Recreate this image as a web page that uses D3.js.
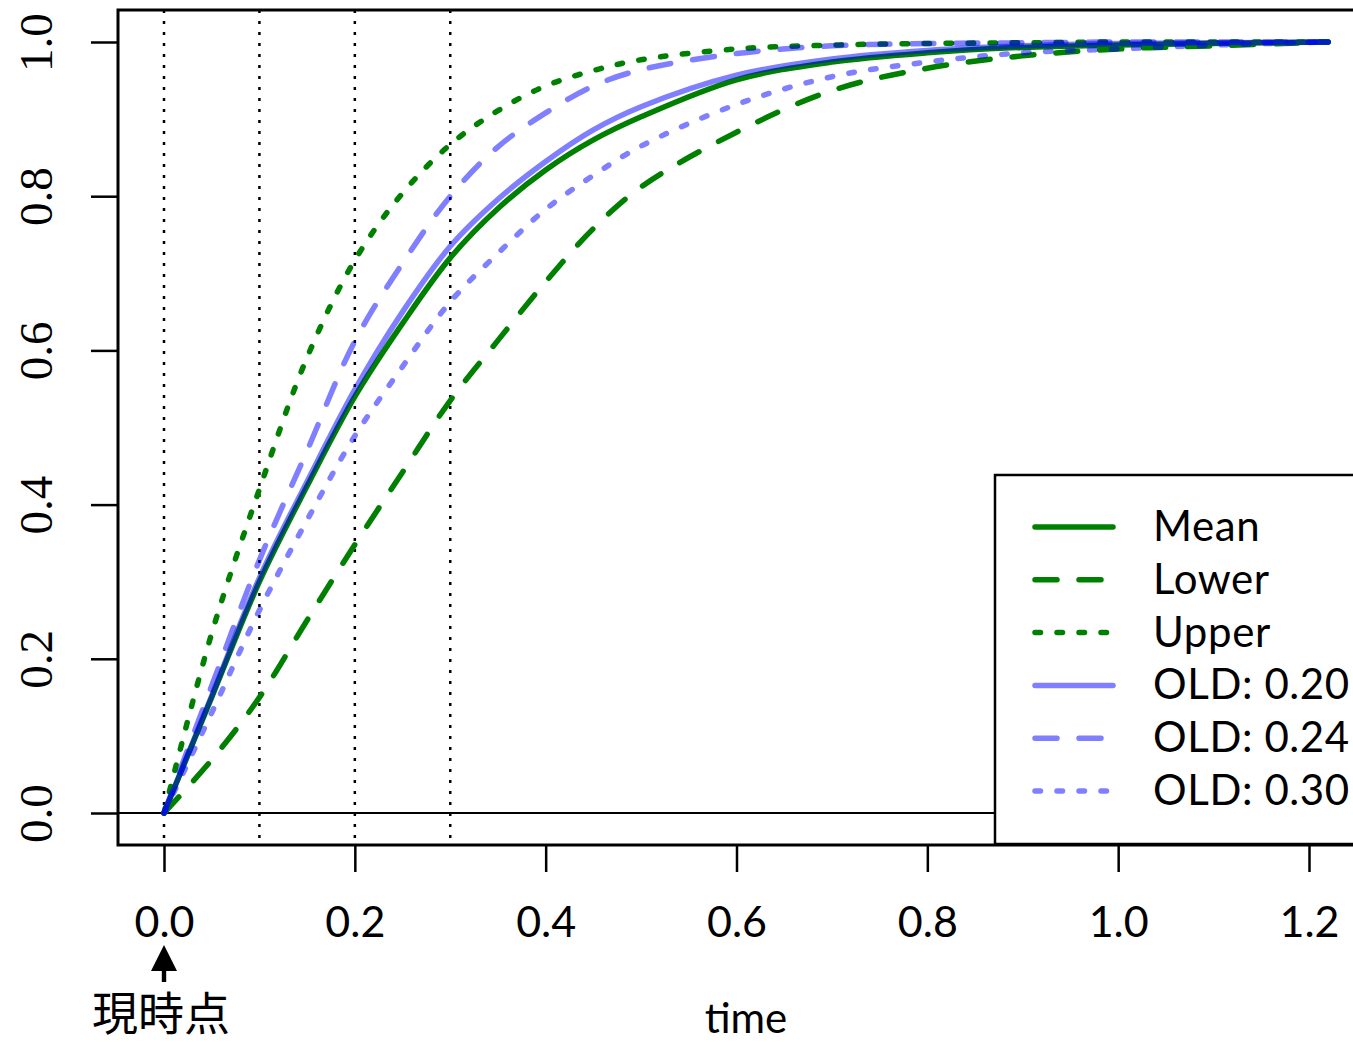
<!DOCTYPE html>
<html>
<head>
<meta charset="utf-8">
<script src="https://cdn.jsdelivr.net/npm/d3@7"></script>
<style>
  html, body { margin: 0; padding: 0; background: #fff; }
  svg { display: block; }
</style>
</head>
<body>
<svg id="chart" width="1353" height="1042"></svg>
<script>
// ---- data ----
const times   = [0, 0.05, 0.1, 0.15, 0.2, 0.25, 0.3, 0.35, 0.4, 0.45, 0.5, 0.6, 0.7, 0.8, 0.9, 1.0, 1.1, 1.22];
const mean    = [0, 0.150, 0.300, 0.424, 0.540, 0.635, 0.720, 0.784, 0.834, 0.873, 0.903, 0.951, 0.974, 0.986, 0.993, 0.996, 0.998, 1.0];
const lower   = [0, 0.069, 0.150, 0.250, 0.348, 0.442, 0.535, 0.613, 0.689, 0.758, 0.812, 0.883, 0.937, 0.966, 0.982, 0.991, 0.995, 1.0];
const upper   = [0, 0.233, 0.420, 0.591, 0.717, 0.804, 0.867, 0.911, 0.943, 0.963, 0.977, 0.991, 0.996, 0.998, 0.999, 1.0, 1.0, 1.0];
const old020  = [0, 0.152, 0.305, 0.430, 0.549, 0.650, 0.735, 0.796, 0.845, 0.886, 0.916, 0.957, 0.978, 0.989, 0.995, 0.998, 0.999, 1.0];
const old024  = [0, 0.165, 0.328, 0.470, 0.612, 0.713, 0.800, 0.864, 0.908, 0.943, 0.964, 0.985, 0.995, 0.998, 0.999, 1.0, 1.0, 1.0];
const old030  = [0, 0.130, 0.263, 0.380, 0.489, 0.579, 0.663, 0.726, 0.783, 0.827, 0.865, 0.919, 0.955, 0.974, 0.986, 0.991, 0.996, 1.0];

const seriesNames = ["Mean", "Lower", "Upper", "OLD: 0.20", "OLD: 0.24", "OLD: 0.30"];
const seriesValues = [mean, lower, upper, old020, old024, old030];
const seriesColors = ["#008000", "#008000", "#008000", "rgba(0,0,255,0.5)", "rgba(0,0,255,0.5)", "rgba(0,0,255,0.5)"];
const seriesDash = ["none", "22,22", "5.5,16.5", "none", "22,22", "5.5,16.5"];

const xTicks = [0, 0.2, 0.4, 0.6, 0.8, 1.0, 1.2];
const yTicks = [0, 0.2, 0.4, 0.6, 0.8, 1.0];
const vLines = [0, 0.1, 0.2, 0.3];
const xLabel = "time";
const nowLabel = "現時点";

// ---- layout ----
const svg = d3.select("#chart");
const box = {left: 118, top: 10, right: 1420, bottom: 845};
const x = d3.scaleLinear().domain([0, 1.2]).range([164, 1309]);
const y = d3.scaleLinear().domain([0, 1]).range([813, 42]);

const sansFont = "Lato, 'Open Sans', sans-serif";
const serifFont = "'Liberation Serif', 'DejaVu Serif', serif";

svg.append("defs").append("clipPath").attr("id", "plotclip")
  .append("rect").attr("x", box.left).attr("y", box.top)
  .attr("width", box.right - box.left).attr("height", box.bottom - box.top);

const plot = svg.append("g").attr("clip-path", "url(#plotclip)");

// reference lines
plot.selectAll("line.v").data(vLines).enter().append("line")
  .attr("x1", d => x(d)).attr("x2", d => x(d))
  .attr("y1", box.top).attr("y2", box.bottom)
  .attr("stroke", "#000").attr("stroke-width", 2.5)
  .attr("stroke-dasharray", "3,8");
plot.append("line")
  .attr("x1", box.left).attr("x2", box.right)
  .attr("y1", y(0)).attr("y2", y(0))
  .attr("stroke", "#000").attr("stroke-width", 2.2);

// curves
const line = d3.line()
  .x((d, i) => x(times[i]))
  .y(d => y(d))
  .curve(d3.curveCatmullRom.alpha(0.5));

seriesValues.forEach((vals, k) => {
  plot.append("path")
    .attr("d", line(vals))
    .attr("fill", "none")
    .attr("stroke", seriesColors[k])
    .attr("stroke-width", 5.5)
    .attr("stroke-linecap", "round")
    .attr("stroke-linejoin", "round")
    .attr("stroke-dasharray", seriesDash[k]);
});

// box
svg.append("rect")
  .attr("x", box.left).attr("y", box.top)
  .attr("width", box.right - box.left).attr("height", box.bottom - box.top)
  .attr("fill", "none").attr("stroke", "#000").attr("stroke-width", 3);

// x axis
const xAxis = d3.axisBottom(x).tickValues(xTicks).tickSize(27).tickPadding(0)
  .tickFormat(d3.format(".1f"));
const gx = svg.append("g").attr("transform", `translate(0,${box.bottom})`).call(xAxis);
gx.select(".domain").remove();
gx.selectAll(".tick line").attr("stroke", "#000").attr("stroke-width", 2.5);
gx.selectAll(".tick text")
  .attr("y", 92).attr("dy", null)
  .attr("font-family", sansFont).attr("font-size", 43).attr("fill", "#000");

// y axis
const yAxis = d3.axisLeft(y).tickValues(yTicks).tickSize(27).tickPadding(0)
  .tickFormat(d3.format(".1f"));
const gy = svg.append("g").attr("transform", `translate(${box.left},0)`).call(yAxis);
gy.select(".domain").remove();
gy.selectAll(".tick line").attr("stroke", "#000").attr("stroke-width", 2.5);
gy.selectAll(".tick text")
  .attr("x", null).attr("dy", null)
  .attr("text-anchor", "middle")
  .attr("transform", "translate(-66,0) rotate(-90)")
  .attr("font-family", serifFont).attr("font-size", 47).attr("fill", "#000");

// x label
svg.append("text").attr("x", 746).attr("y", 1033)
  .attr("text-anchor", "middle")
  .attr("font-family", sansFont).attr("font-size", 42).attr("fill", "#000")
  .text(xLabel);

// arrow + "now" label
const ax = x(0);
svg.append("rect").attr("x", ax - 2.2).attr("y", 966).attr("width", 4.4).attr("height", 16).attr("fill", "#000");
svg.append("path")
  .attr("d", `M${ax},945 L${ax - 13},971 L${ax + 13},971 Z`)
  .attr("fill", "#000");
svg.append("text").attr("x", ax - 3).attr("y", 1030)
  .attr("text-anchor", "middle")
  .attr("font-family", "'Noto Sans CJK JP', sans-serif").attr("font-size", 46).attr("fill", "#000")
  .text(nowLabel);

// legend
const lg = svg.append("g");
lg.append("rect").attr("x", 995).attr("y", 475).attr("width", 500).attr("height", 369)
  .attr("fill", "#fff").attr("stroke", "#000").attr("stroke-width", 2.5);
const rowY = d3.scaleLinear().domain([0, 5]).range([527, 791]);
seriesNames.forEach((name, k) => {
  lg.append("line")
    .attr("x1", 1035).attr("x2", 1113)
    .attr("y1", rowY(k)).attr("y2", rowY(k))
    .attr("stroke", seriesColors[k]).attr("stroke-width", 5.5)
    .attr("stroke-linecap", "round")
    .attr("stroke-dasharray", seriesDash[k]);
  lg.append("text")
    .attr("x", 1153).attr("y", rowY(k) + 14)
    .attr("font-family", sansFont).attr("font-size", 42)
    .attr("letter-spacing", 0.6).attr("fill", "#000")
    .text(name);
});
</script>
</body>
</html>
